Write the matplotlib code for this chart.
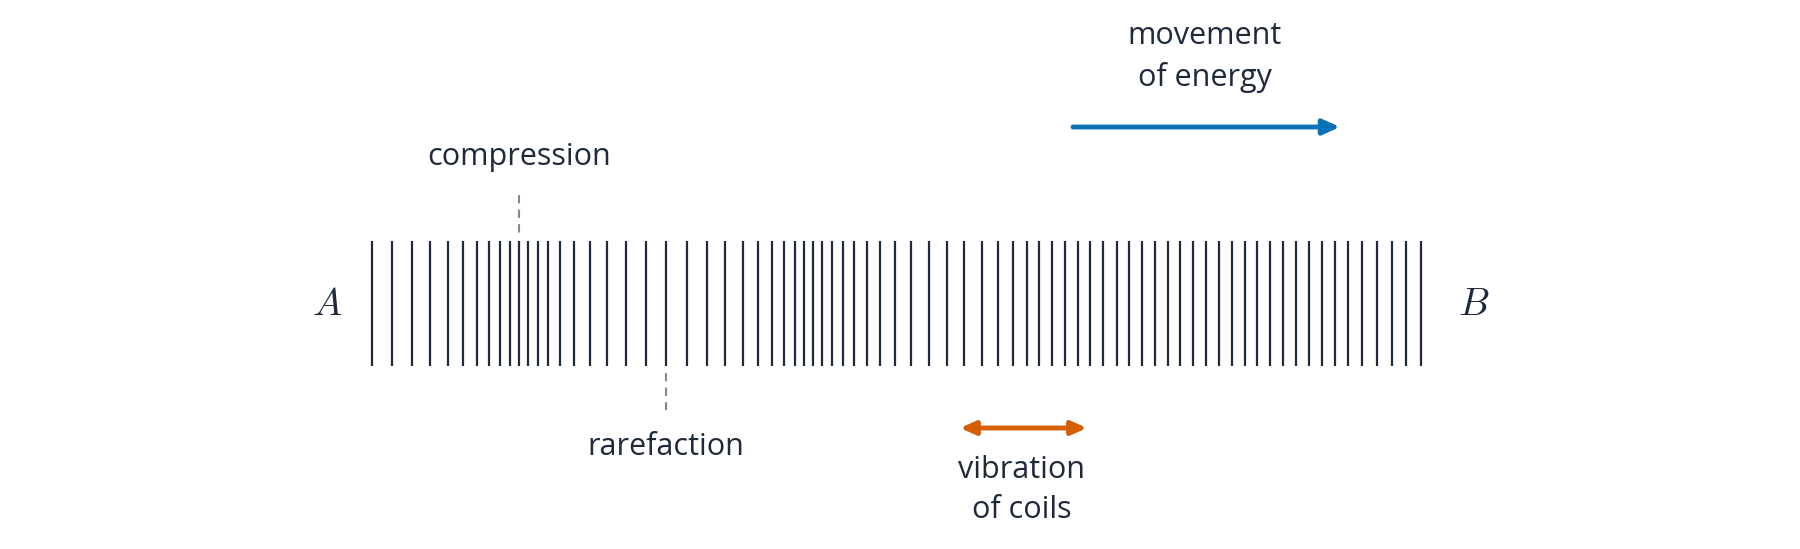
import matplotlib
matplotlib.use("Agg")
import matplotlib.pyplot as plt

plt.rcParams['mathtext.fontset'] = 'cm'

coil_x = [371.7,392.3,411.7,430,447.7,463.3,476.7,489.3,500,510,519,528,537.7,548.3,560.3,574.3,
          589.7,607,625.7,645.7,666.3,686.7,706.7,725.3,742.7,758,772,784.3,795,804.3,813.3,822.3,
          831.7,843.3,854,866.7,880,895,911.3,929,946.7,964.3,981.7,998.3,1013.3,1026.7,1039,1051.7,
          1064.7,1077.7,1090,1103.3,1116.7,1129.3,1142,1155,1167.7,1180.3,1193.3,1206,1219,1232,
          1244.7,1257.3,1270.3,1282.7,1296,1309,1321.7,1335,1348,1362.3,1377,1391.7,1406.3,1421]
labels = ["compression", "rarefaction", "movement\nof energy", "vibration\nof coils"]

ink = "#1e293b"
fig = plt.figure(figsize=(18, 5.49), dpi=100)
ax = fig.add_axes([0, 0, 1, 1])
ax.set_xlim(0, 1800); ax.set_ylim(549, 0); ax.axis('off')

ax.vlines(coil_x, 241, 366, color=ink, lw=1.6)
ax.text(327, 304, "$A$", fontsize=28, color=ink, ha='center', va='center')
ax.text(1474, 304, "$B$", fontsize=28, color=ink, ha='center', va='center')

fs = 22
ax.plot([519, 519], [195, 233], color="#888888", lw=1.5, ls=(0, (4, 3)))
ax.text(519, 157, labels[0], fontsize=fs, color=ink, ha='center', va='center', family='Open Sans')
ax.plot([666, 666], [373, 410], color="#888888", lw=1.5, ls=(0, (4, 3)))
ax.text(666, 447, labels[1], fontsize=fs, color=ink, ha='center', va='center', family='Open Sans')

ax.annotate("", xy=(1340, 127), xytext=(1073, 127),
            arrowprops=dict(arrowstyle="-|>,head_length=1.0,head_width=0.45", color="#0b72b5", lw=3.5, shrinkA=0, shrinkB=0))
ax.text(1205, 57, labels[2], fontsize=fs, color=ink, ha='center', va='center', family='Open Sans', linespacing=1.45)

ax.annotate("", xy=(1087, 428), xytext=(960, 428),
            arrowprops=dict(arrowstyle="<|-|>,head_length=0.9,head_width=0.4", color="#d55e00", lw=3.5, shrinkA=0, shrinkB=0))
ax.text(1022, 490, labels[3], fontsize=fs, color=ink, ha='center', va='center', family='Open Sans', linespacing=1.45)

fig.savefig("out.png", dpi=100)
